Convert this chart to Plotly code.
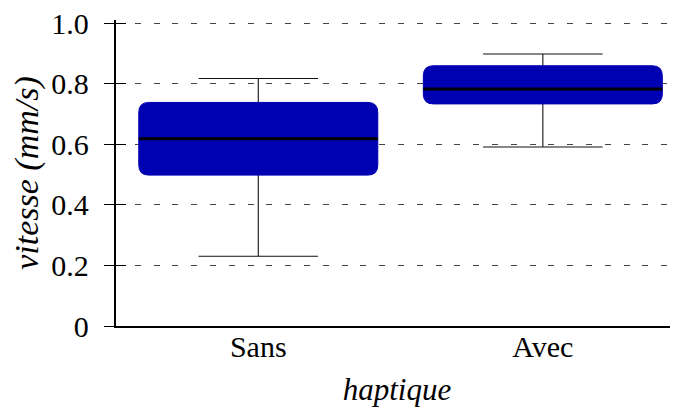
import plotly.graph_objects as go

categories = ["Sans", "Avec"]
lower = [0.23, 0.591]
q1 = [0.498, 0.733]
median = [0.618, 0.782]
q3 = [0.738, 0.859]
upper = [0.817, 0.898]
ytick_vals = [0, 0.2, 0.4, 0.6, 0.8, 1.0]
ytick_text = ["0", "0.2", "0.4", "0.6", "0.8", "1.0"]

BLUE = "#0000b3"
FONT = "Liberation Serif"
pos = list(range(len(categories)))
half_box = 0.42
half_cap = 0.21
rx, ry = 0.035, 0.033
YRANGE = [0, 1.01]

fig = go.Figure()

# whiskers
wx, wy = [], []
for i, p in enumerate(pos):
    wx += [p, p, None, p - half_cap, p + half_cap, None, p - half_cap, p + half_cap, None]
    wy += [lower[i], upper[i], None, lower[i], lower[i], None, upper[i], upper[i], None]
fig.add_trace(go.Scatter(x=wx, y=wy, mode="lines", line=dict(color="#111", width=1.1),
                         hoverinfo="skip", showlegend=False))

shapes = []
for i, p in enumerate(pos):
    x0, x1 = p - half_box, p + half_box
    y0, y1 = q1[i], q3[i]
    path = (f"M {x0+rx},{y0} L {x1-rx},{y0} Q {x1},{y0} {x1},{y0+ry} "
            f"L {x1},{y1-ry} Q {x1},{y1} {x1-rx},{y1} L {x0+rx},{y1} "
            f"Q {x0},{y1} {x0},{y1-ry} L {x0},{y0+ry} Q {x0},{y0} {x0+rx},{y0} Z")
    shapes.append(dict(type="path", path=path, xref="x", yref="y", fillcolor=BLUE,
                       line=dict(color=BLUE, width=1), layer="above"))
for i, p in enumerate(pos):
    shapes.append(dict(type="line", xref="x", yref="y", x0=p - half_box, x1=p + half_box,
                       y0=median[i], y1=median[i], line=dict(color="black", width=3),
                       layer="above"))

# dummy trace for inner ticks axis
fig.add_trace(go.Scatter(x=[None], y=[None], yaxis="y2", showlegend=False, hoverinfo="skip"))

fig.update_layout(
    width=670, height=402,
    margin=dict(l=108, r=0, t=12, b=84),
    paper_bgcolor="white", plot_bgcolor="white",
    font=dict(family=FONT, size=30, color="black"),
    shapes=shapes,
    showlegend=False,
    xaxis=dict(range=[-0.5, 1.475], tickvals=pos, ticktext=categories,
               showgrid=False, zeroline=False, showline=True, linecolor="black",
               linewidth=2.4, ticks="", ticklabelstandoff=-7,
               title=dict(text="haptique", font=dict(family=FONT, size=31, style="italic"),
                          standoff=16)),
    yaxis=dict(range=YRANGE, tickvals=ytick_vals, ticktext=ytick_text,
               showgrid=True, gridcolor="#444", gridwidth=1, griddash="6px,12.8px",
               zeroline=False, showline=True, linecolor="black", linewidth=2.4,
               ticks="outside", ticklen=10, tickwidth=1, tickcolor="black",
               ticklabelstandoff=9, ticklabeloverflow="allow",
               title=dict(text="vitesse (mm/s)", font=dict(family=FONT, size=34, style="italic"),
                          standoff=6)),
    yaxis2=dict(range=YRANGE, overlaying="y", side="left", tickvals=ytick_vals,
                showticklabels=False, showgrid=False, zeroline=False, showline=False,
                ticks="inside", ticklen=10, tickwidth=1, tickcolor="black"),
)

fig.write_html("out.html")
